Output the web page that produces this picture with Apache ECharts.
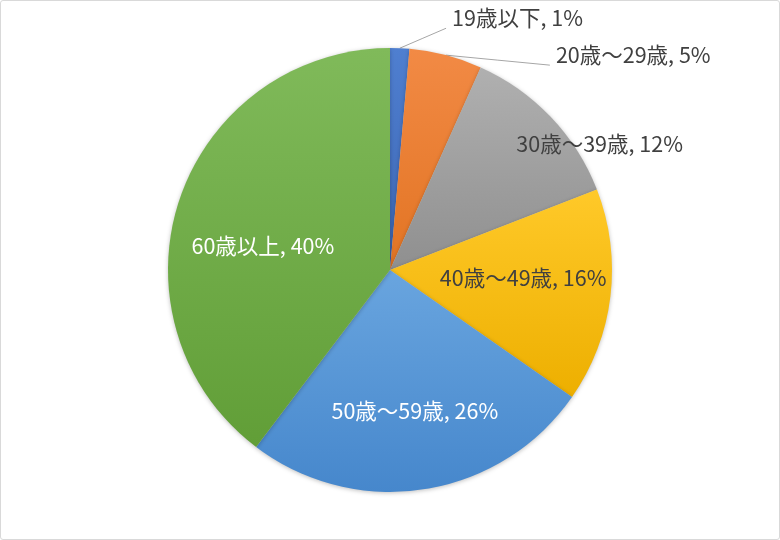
<!DOCTYPE html>
<html><head><meta charset="utf-8">
<script src="https://cdn.jsdelivr.net/npm/echarts@6/dist/echarts.min.js"></script>
<style>
html,body{margin:0;padding:0;background:#fff;}
#c{position:absolute;left:0;top:0;width:778px;height:538px;border:1px solid #d9d9d9;border-radius:3px;}
</style></head>
<body><div id="c"></div>
<script>
// Data
const categories = ['19歳以下', '20歳～29歳', '30歳～39歳', '40歳～49歳', '50歳～59歳', '60歳以上'];
const values = [1.4, 5.3, 12.4, 15.6, 25.6, 39.7];

// Styles
const baseColors = [
  ['#4f7fd0', '#3c66b4'],
  ['#f28a45', '#e27423'],
  ['#b0b0b0', '#8f8f8f'],
  ['#ffc929', '#edaf00'],
  ['#69a5df', '#4687cc'],
  ['#80ba5a', '#619e37']
];
const labelColors = ['#404040', '#404040', '#404040', '#404040', '#ffffff', '#ffffff'];
const labelPos = ['outside', 'outside', 'inside', 'inside', 'inside', 'inside'];
const lineLen = [30, 0, 0, 0, 0, 0];
const lineLen2 = [46, 105, 0, 0, 0, 0];
const insideShift = [[0,0],[0,0],[127,-48],[20,-6],[7,28],[-19,12]];

const chart = echarts.init(document.getElementById('c'), null, {renderer: 'canvas'});
const data = categories.map((name, i) => ({
  name: name,
  value: values[i],
  itemStyle: {
    color: new echarts.graphic.LinearGradient(0, 0, 0, 1, [
      {offset: 0, color: baseColors[i][0]},
      {offset: 1, color: baseColors[i][1]}
    ])
  },
  label: {position: labelPos[i], color: labelColors[i]},
  labelLine: {show: labelPos[i] === 'outside', length: lineLen[i], length2: lineLen2[i]}
}));

chart.setOption({
  animation: false,
  series: [{
    type: 'pie',
    center: [389, 269],
    radius: 222,
    startAngle: 90,
    clockwise: true,
    avoidLabelOverlap: false,
    percentPrecision: 0,
    data: data,
    itemStyle: {
      borderWidth: 0,
      shadowBlur: 4,
      shadowColor: 'rgba(0,0,0,0.25)',
      shadowOffsetY: 1
    },
    label: {
      formatter: '{b}, {d}%',
      fontFamily: '"Noto Sans CJK JP", sans-serif',
      fontSize: 21.5,
      distanceToLabelLine: 5
    },
    labelLine: {
      lineStyle: {color: '#a6a6a6', width: 1},
      smooth: false
    },
    labelLayout: function (p) {
      const i = p.dataIndex;
      if (labelPos[i] === 'inside') {
        return {dx: insideShift[i][0], dy: insideShift[i][1]};
      }
      if (p.labelLinePoints) {
        const p0 = p.labelLinePoints[0];
        const end = [p.labelRect.x - 6, p.labelRect.y + p.labelRect.height / 2 + 10];
        const mid = [(p0[0] + end[0]) / 2, (p0[1] + end[1]) / 2];
        return {labelLinePoints: [p0, mid, end]};
      }
      return {};
    }
  }]
});
</script></body></html>
